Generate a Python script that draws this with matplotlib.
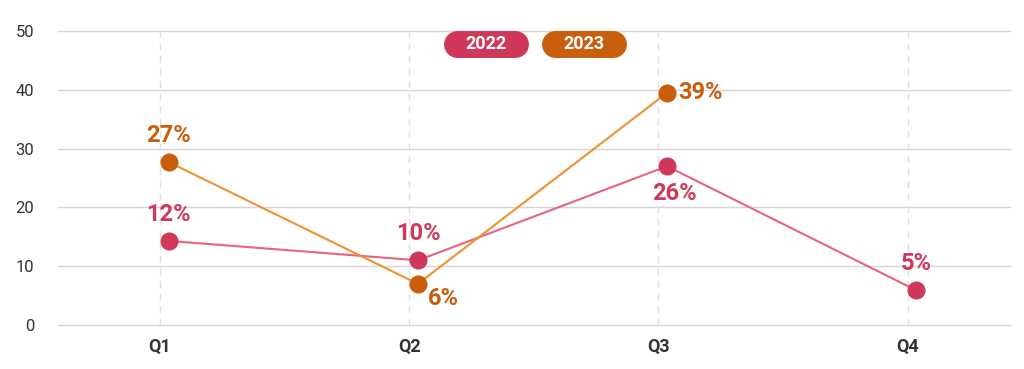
import matplotlib
matplotlib.use("Agg")
import matplotlib.pyplot as plt
from matplotlib.lines import Line2D
import numpy as np

quarters = ["Q1", "Q2", "Q3", "Q4"]
series_names = ["2022", "2023"]
values_2022 = [14.3, 11.0, 27.0, 5.9]
values_2023 = [27.7, 7.0, 39.5]
labels_2022 = ["12%", "10%", "26%", "5%"]
labels_2023 = ["27%", "6%", "39%"]

c22_mark = "#D0385A"
c22_line = "#E8637F"
c23_mark = "#C95E0C"
c23_line = "#F0922F"

fig = plt.figure(figsize=(10.24, 3.69), dpi=100)
ax = fig.add_axes([0.0566, 0.1192, 0.9294, 0.7968])
x = np.arange(len(quarters))
off = 0.035

ax.plot(x[:len(values_2022)] + off, values_2022, color=c22_line, lw=1.5, zorder=3)
ax.plot(x[:len(values_2022)] + off, values_2022, 'o', color=c22_mark, ms=12, zorder=4)
ax.plot(x[:len(values_2023)] + off, values_2023, color=c23_line, lw=1.5, zorder=3)
ax.plot(x[:len(values_2023)] + off, values_2023, 'o', color=c23_mark, ms=12, zorder=4)

fs = 17
font = "Roboto"
pos22 = [(0, 11, 'center', 'bottom'), (0, 11, 'center', 'bottom'),
         (5, -11, 'center', 'top'), (0, 11, 'center', 'bottom')]
for xi, v, lab, (dx, dy, ha, va) in zip(x, values_2022, labels_2022, pos22):
    ax.annotate(lab, (xi + off, v), xytext=(dx, dy), textcoords='offset points',
                ha=ha, va=va, color=c22_mark, fontsize=fs, fontweight='bold', family=font, zorder=5)
pos23 = [(0, 11, 'center', 'bottom'), (7, -2, 'left', 'top'), (8, 0, 'left', 'center')]
for xi, v, lab, (dx, dy, ha, va) in zip(x, values_2023, labels_2023, pos23):
    ax.annotate(lab, (xi + off, v), xytext=(dx, dy), textcoords='offset points',
                ha=ha, va=va, color=c23_mark, fontsize=fs, fontweight='bold', family=font, zorder=5)

ax.set_xlim(-0.41, 3.41)
ax.set_ylim(0, 50)
ax.set_yticks(np.arange(0, 51, 10))
ax.set_xticks(x)
ax.set_xticklabels(quarters, fontweight='bold', fontsize=13, family=font, color="#333333")
ax.tick_params(axis='y', length=0, pad=17, labelsize=12, labelcolor="#333333")
ax.tick_params(axis='x', length=0, pad=9)
for lab in ax.get_yticklabels():
    lab.set_family(font)
ax.grid(axis='y', color="#d6d6d6", lw=1, zorder=0)
ax.grid(axis='x', color="#e0e0e0", lw=1, ls=(0, (5, 4)), zorder=0)
for gl in ax.get_ygridlines():
    gl.set_clip_on(False)
for s in ax.spines.values():
    s.set_visible(False)

# legend pills (inch units, figure is 10.24 x 3.69 in) drawn as round-capped thick lines
pw, ph = 0.85, 0.27
yc = 3.69 - 0.44
half = (pw - ph) / 2
for name, col, xc in [(series_names[0], c22_mark, 4.855), (series_names[1], c23_mark, 5.835)]:
    ln = Line2D([xc - half, xc + half], [yc, yc], lw=ph * 72, color=col,
                solid_capstyle='round', transform=fig.dpi_scale_trans)
    fig.lines.append(ln)
    fig.text(xc, yc, name, ha='center', va='center', color='white', fontsize=13,
             fontweight='bold', family=font, transform=fig.dpi_scale_trans)

fig.savefig("out.png", dpi=100)
